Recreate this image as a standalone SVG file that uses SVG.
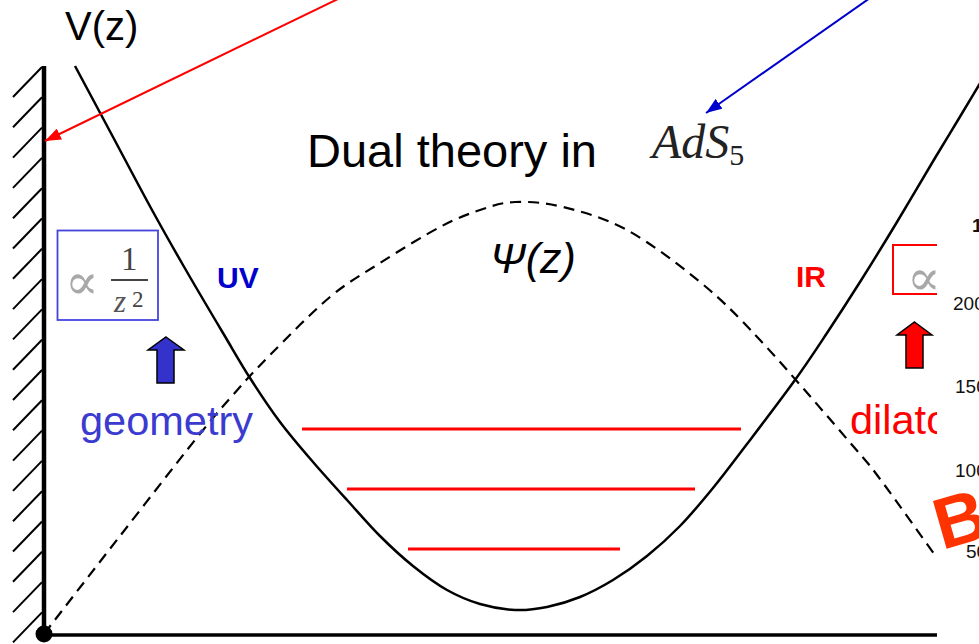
<svg xmlns="http://www.w3.org/2000/svg" width="979" height="644" viewBox="0 0 979 644">
<style>
.sans{font-family:"Liberation Sans",Arial,sans-serif}
.serif{font-family:"Liberation Serif","DejaVu Serif",serif}
.prop{font-family:"DejaVu Serif",serif;font-size:50px;fill:#a8a8a8}
.hatch{stroke:#000;stroke-width:2}
.lvl{stroke:#ff0000;stroke-width:3}
.tick{font-family:"Liberation Sans",Arial,sans-serif;font-size:19px;fill:#111}
</style>
<defs>
<marker id="ahRed" viewBox="0 0 16 12" refX="16" refY="6" markerWidth="16" markerHeight="12" markerUnits="userSpaceOnUse" orient="auto"><path d="M0,0 L16,6 L0,12 z" fill="#ff0000"/></marker>
<marker id="ahBlue" viewBox="0 0 16 12" refX="16" refY="6" markerWidth="16" markerHeight="12" markerUnits="userSpaceOnUse" orient="auto"><path d="M0,0 L16,6 L0,12 z" fill="#0000cc"/></marker>
<clipPath id="clipR"><rect x="0" y="0" width="937" height="644"/></clipPath>
</defs>
<rect width="979" height="644" fill="#fff"/>

<g id="wall">
<line x1="44" y1="66" x2="44" y2="634" stroke="#000" stroke-width="4.5"/>
<g class="hatch">
<line x1="13" y1="97" x2="42" y2="67"/><line x1="13" y1="127.3" x2="42" y2="97.3"/><line x1="13" y1="157.6" x2="42" y2="127.6"/><line x1="13" y1="187.9" x2="42" y2="157.9"/><line x1="13" y1="218.2" x2="42" y2="188.2"/><line x1="13" y1="248.5" x2="42" y2="218.5"/><line x1="13" y1="278.8" x2="42" y2="248.8"/><line x1="13" y1="309.1" x2="42" y2="279.1"/><line x1="13" y1="339.4" x2="42" y2="309.4"/><line x1="13" y1="369.7" x2="42" y2="339.7"/><line x1="13" y1="400" x2="42" y2="370"/><line x1="13" y1="430.3" x2="42" y2="400.3"/><line x1="13" y1="460.6" x2="42" y2="430.6"/><line x1="13" y1="490.9" x2="42" y2="460.9"/><line x1="13" y1="521.2" x2="42" y2="491.2"/><line x1="13" y1="551.5" x2="42" y2="521.5"/><line x1="13" y1="581.8" x2="42" y2="551.8"/><line x1="13" y1="612.1" x2="42" y2="582.1"/><line x1="13" y1="642.4" x2="42" y2="612.4"/>
</g>
</g>

<g id="axis">
<line x1="44" y1="635" x2="937" y2="635" stroke="#000" stroke-width="3.5"/>
<circle cx="44" cy="634" r="8.5" fill="#000"/>
</g>

<g id="potential">
<path d="M75,66 C87.7,89.7 100.2,113 113,137 S140.3,188.7 152,210 S171.2,244.5 183,265 S211.8,314.2 223,333 S240.5,363.2 250,378 S269.5,408 280,422 S301.8,449 313,462 S335.8,487.7 347,500 S369,525 380,536 S401.8,557 413,566 S435.8,583.7 447,590 S468.7,600.7 480,604 S503.8,609.5 515,610 S536.2,609.2 547,607 S569,601.5 580,597 S601.8,586.8 613,580 S635.8,565 647,556 S669,537.3 680,526 S701.8,501.7 713,488 S733.3,462 747,444 S781.7,398.5 795,380 S816.2,349.3 827,333 S848.3,300.5 860,282 S884.5,242.7 897,222 S924.8,175 935,158 S950.2,133 958,120 S974,93.3 982,80" fill="none" stroke="#000" stroke-width="2.5"/>
</g>

<g id="wavefunction">
<path d="M44,634 C69.3,601.3 94.8,568.3 120,536 S176.3,463.3 195,440 S219.5,410.2 232,396 S253.7,371.5 270,355 S311.7,312.3 330,297 S361.7,274.7 380,263 S423.3,235.8 440,227 S467.5,214.2 480,210 S501.2,202.5 515,202 S544.3,202.3 563,207 S604.2,217.5 627,230 S677.8,263.7 700,282 S734.5,312.7 760,340 S832.5,422.2 853,446 S869,464.3 883,483 S919,533 937,558" fill="none" stroke="#000" stroke-width="2.2" stroke-dasharray="11 7"/>
</g>

<g id="levels">
<line class="lvl" x1="302" y1="429" x2="741" y2="429"/>
<line class="lvl" x1="347" y1="489" x2="695" y2="489"/>
<line class="lvl" x1="408" y1="549" x2="620" y2="549"/>
</g>

<g id="labels">
<text class="sans" x="65" y="40" font-size="40" fill="#000">V(z)</text>
<text class="sans" x="307" y="167" font-size="47" fill="#000">Dual theory in</text>
<text class="sans" x="490" y="273" font-size="43" font-style="italic" fill="#000">Ψ(z)</text>
<text class="serif" x="652" y="158" font-size="48" font-style="italic" fill="#222">AdS<tspan font-style="normal" font-size="30" dy="7">5</tspan></text>
</g>

<g id="uv-box">
<rect x="57.5" y="230.5" width="100.5" height="89.5" fill="none" stroke="#4444dd" stroke-width="1.8"/>
<text class="prop" x="65" y="299">∝</text>
<text class="serif" x="121" y="270" font-size="33" fill="#444">1</text>
<line x1="111" y1="280" x2="148" y2="280" stroke="#444" stroke-width="1.8"/>
<text class="serif" x="114" y="312" font-size="31" font-style="italic" fill="#555">z</text>
<text class="serif" x="132" y="307" font-size="23" fill="#444">2</text>
</g>

<g id="uv">
<text class="sans" x="217" y="288" font-size="30" font-weight="bold" fill="#0000cc">UV</text>
<polygon points="166,337 184,350 174,350 174,383 157,383 157,350 148,350" fill="#3333cc" stroke="#000" stroke-width="1.5"/>
<text class="sans" x="80" y="435" font-size="41.5" fill="#3b3bd0">geometry</text>
</g>

<g id="ir">
<text class="sans" x="796" y="287" font-size="30" font-weight="bold" fill="#ff0000">IR</text>
<path d="M937,245 H893 V294 H937" fill="none" stroke="#ff0000" stroke-width="2"/>
<g clip-path="url(#clipR)">
<text class="prop" x="907" y="295">∝</text>
<text class="sans" x="850" y="434" font-size="41.5" fill="#ff0000">dilato</text>
</g>
<polygon points="914.5,322 932,335 923,335 923,368 906,368 906,335 897,335" fill="#ff0000" stroke="#000" stroke-width="1.5"/>
</g>

<g id="background-chart">
<text class="tick" x="972" y="232" font-weight="bold">1</text>
<text class="tick" x="953" y="310">200</text>
<text class="tick" x="955" y="393">150</text>
<text class="tick" x="955" y="477">100</text>
<text class="tick" x="966" y="558">50</text>
<text class="sans" transform="translate(942,550) rotate(-16)" font-size="72" font-weight="bold" fill="#ff3300">B</text>
</g>

<g id="connectors">
<line x1="340" y1="-2" x2="45" y2="141" stroke="#ff0000" stroke-width="2" marker-end="url(#ahRed)"/>
<line x1="870" y1="-2" x2="706" y2="113" stroke="#0000cc" stroke-width="2" marker-end="url(#ahBlue)"/>
</g>
</svg>
